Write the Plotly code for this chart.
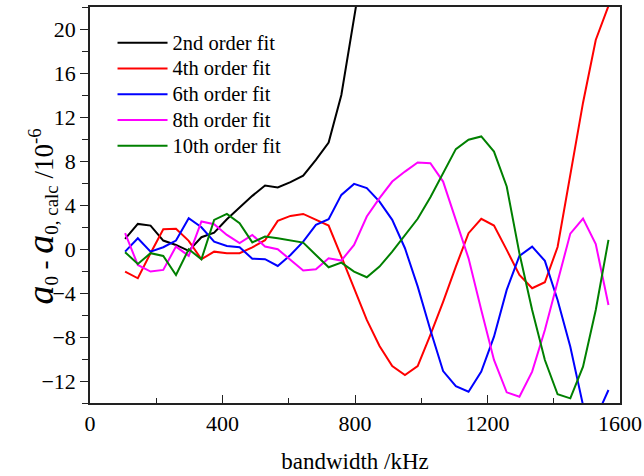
import plotly.graph_objects as go

bandwidth = [106.0, 144.4, 182.8, 221.2, 259.6, 298.0, 336.4, 374.8, 413.2, 451.6,
             490.0, 528.4, 566.8, 605.2, 643.6, 682.0, 720.4, 758.8, 797.2, 835.6,
             874.0, 912.4, 950.8, 989.2, 1027.6, 1066.0, 1104.4, 1142.8, 1181.2, 1219.6,
             1258.0, 1296.4, 1334.8, 1373.2, 1411.6, 1450.0, 1488.4, 1526.8, 1565.2]

fit2 = [0.92, 2.28, 2.13, 0.77, 0.37, -0.17, 1.07, 1.49, 2.71, 3.80,
        4.83, 5.77, 5.59, 6.08, 6.67, 8.10, 9.68, 14.0, 20.5, 28.0]

fit4 = [-2.05, -2.66, -0.38, 1.80, 1.83, 0.74, -0.93, -0.24, -0.38, -0.38,
        0.15, 0.80, 2.56, 3.01, 3.19, 2.65, 2.13, -0.69, -3.55, -6.45,
        -8.82, -10.64, -11.46, -10.64, -7.80, -4.80, -1.60, 1.44, 2.74, 2.13,
        -0.08, -2.36, -3.57, -3.02, 0.18, 6.59, 13.3, 19.0, 22.1]

fit6 = [-0.24, 0.98, -0.24, 0.16, 0.77, 2.80, 1.98, 0.67, 0.28, 0.16,
        -0.88, -0.93, -1.54, -0.54, 0.67, 2.19, 2.71, 4.92, 5.92, 5.53,
        4.31, 2.65, 0.07, -3.40, -7.36, -11.1, -12.46, -12.97, -11.15, -7.97,
        -3.72, -0.63, 0.22, -1.08, -4.63, -8.88, -14.2, -15.4, -12.82]

fit8 = [1.44, -1.45, -2.05, -1.90, 0.22, -0.63, 2.50, 2.25, 1.28, 0.53,
        1.28, 0.22, -0.02, -0.99, -1.96, -1.84, -0.84, -1.05, 0.37, 2.95,
        4.62, 6.13, 7.04, 7.86, 7.80, 6.13, 2.70, -0.85, -5.54, -10.09,
        -13.03, -13.43, -11.15, -7.36, -2.97, 1.40, 2.77, 0.45, -5.09]

fit10 = [-0.29, -1.36, -0.38, -0.63, -2.36, -0.02, -0.93, 2.65, 3.19, 2.35,
         0.60, 1.13, 0.98, 0.77, 0.58, -0.54, -1.66, -1.24, -2.05, -2.57,
         -1.60, -0.24, 1.30, 2.75, 4.70, 6.90, 9.08, 9.93, 10.23, 8.86,
         5.68, -0.40, -5.54, -10.09, -13.21, -13.58, -10.70, -5.54, 0.83]

series = [
    ("2nd order fit", fit2, "#000000"),
    ("4th order fit", fit4, "#ff0000"),
    ("6th order fit", fit6, "#0000ff"),
    ("8th order fit", fit8, "#ff00ff"),
    ("10th order fit", fit10, "#008000"),
]

FONT = "Liberation Serif"

fig = go.Figure()
for name, vals, col in series:
    fig.add_trace(go.Scatter(
        x=bandwidth[:len(vals)], y=vals, mode="lines",
        name="<span style='font-size:20.5px'>" + name + "</span>",
        line=dict(color=col, width=2),
    ))

fig.update_layout(
    width=644, height=476,
    margin=dict(l=90, r=24, t=7, b=73),
    paper_bgcolor="white", plot_bgcolor="white",
    font=dict(family=FONT, size=22, color="black"),
    showlegend=True,
    legend=dict(
        x=0.0425, y=0.955, xanchor="left", yanchor="top",
        bgcolor="rgba(0,0,0,0)", borderwidth=0,
        font=dict(family=FONT, size=17.5, color="black"),
        itemwidth=50, tracegroupgap=0,
    ),
)

fig.update_xaxes(
    range=[0, 1600], dtick=400, tick0=0, automargin=False,
    showgrid=False, zeroline=False,
    showline=True, linecolor="#222222", linewidth=1.5, mirror=True,
    ticks="inside", ticklen=8, tickwidth=1.2, tickcolor="#222222",
    minor=dict(dtick=200, ticks="inside", ticklen=5, tickwidth=1.2, tickcolor="#222222", showgrid=False),
    tickfont=dict(family=FONT, size=22),
    title=dict(text="bandwidth /kHz", font=dict(family=FONT, size=23), standoff=18),
)

fig.update_yaxes(
    range=[-14, 22], dtick=4, tick0=0, automargin=False,
    showgrid=False, zeroline=False,
    showline=True, linecolor="#222222", linewidth=1.5, mirror=True,
    ticks="outside", ticklen=8, tickwidth=1.2, tickcolor="#222222",
    minor=dict(dtick=2, ticks="outside", ticklen=6, tickwidth=1.2, tickcolor="#222222", showgrid=False),
    tickfont=dict(family=FONT, size=22),
)

ytitle = ("<span style='font-size:38px'><i>a</i></span><sub>0</sub> - "
          "<span style='font-size:38px'><i>a</i></span><sub>0, calc</sub> /10<sup>-6</sup>")
fig.add_annotation(
    text=ytitle, textangle=-90, showarrow=False,
    xref="paper", yref="paper", x=-0.093, y=0.47,
    xanchor="center", yanchor="middle",
    font=dict(family=FONT, size=27, color="black"),
)

fig.write_html("out.html", post_script="document.body.style.margin='0';",
               config={"displayModeBar": False})
